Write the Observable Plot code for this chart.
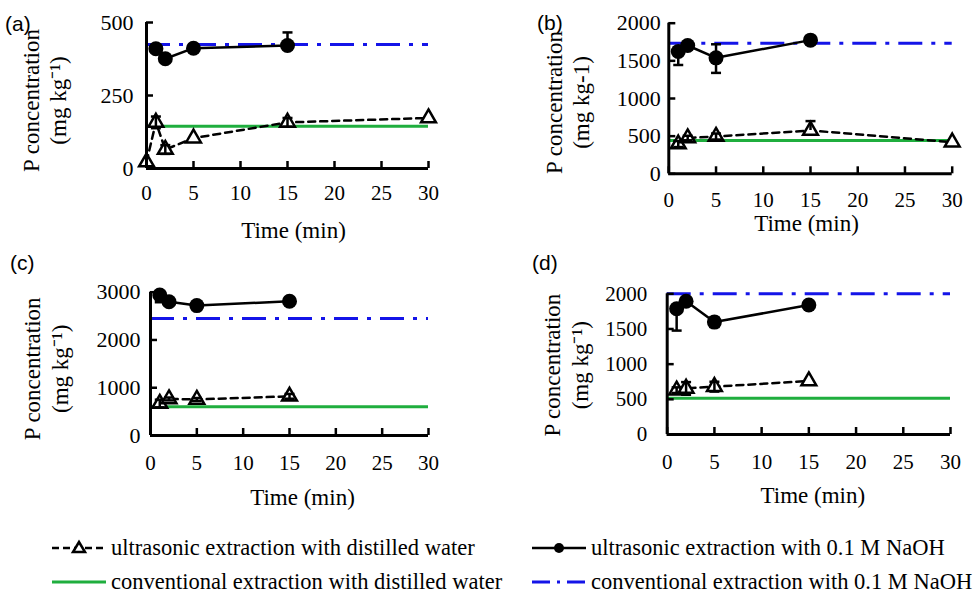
<!DOCTYPE html>
<html><head><meta charset="utf-8">
<script src="https://cdn.jsdelivr.net/npm/d3@7"></script>
<script src="https://cdn.jsdelivr.net/npm/@observablehq/plot@0.6"></script>
<style>
body{margin:0;background:#fff;}
#root{position:relative;width:980px;height:603px;overflow:hidden;background:#fff;font-family:"Liberation Serif","Times New Roman",serif;color:#000;}
#root svg text{font-family:"Liberation Serif","Times New Roman",serif !important;}
.tag{position:absolute;font-family:"Liberation Sans",Arial,sans-serif;font-size:21px;line-height:24px;}
.leg{position:absolute;height:26px;display:flex;align-items:center;font-size:22.5px;white-space:nowrap;}
.leg svg{margin-right:3px;}
</style></head><body><div id="root"></div>
<script>
// ---------- data ----------
const xTicks = [0, 5, 10, 15, 20, 25, 30];

// (a)
const waterTimesA  = [0, 1, 2, 5, 15, 30];
const waterA       = [22, 158, 65, 104, 158, 173];
const waterErrLoA  = [0, 20, 15, 0, 15, 0];
const waterErrHiA  = [0, 20, 15, 0, 15, 0];
const naohTimesA   = [1, 2, 5, 15];
const naohA        = [410, 376, 412, 421];
const naohErrLoA   = [0, 0, 0, 0];
const naohErrHiA   = [0, 0, 0, 45];
const convWaterA   = 145;
const convNaohA    = 425;
const yTicksA      = [0, 250, 500];

// (b)
const waterTimesB  = [1, 2, 5, 15, 30];
const waterB       = [395, 475, 495, 575, 420];
const waterErrLoB  = [40, 30, 40, 0, 0];
const waterErrHiB  = [40, 30, 40, 125, 0];
const naohTimesB   = [1, 2, 5, 15];
const naohB        = [1625, 1704, 1540, 1775];
const naohErrLoB   = [180, 0, 200, 0];
const naohErrHiB   = [0, 0, 180, 0];
const convWaterB   = 442;
const convNaohB    = 1734;
const yTicksB      = [0, 500, 1000, 1500, 2000];

// (c)
const waterTimesC  = [1, 2, 5, 15];
const waterC       = [670, 765, 755, 820];
const waterErrLoC  = [80, 30, 30, 50];
const waterErrHiC  = [80, 30, 30, 50];
const naohTimesC   = [1, 2, 5, 15];
const naohC        = [2940, 2800, 2720, 2810];
const naohErrLoC   = [150, 0, 0, 0];
const naohErrHiC   = [0, 0, 0, 0];
const convWaterC   = 600;
const convNaohC    = 2450;
const yTicksC      = [0, 1000, 2000, 3000];

// (d)
const waterTimesD  = [1, 2, 5, 15];
const waterD       = [630, 655, 680, 760];
const waterErrLoD  = [40, 90, 70, 0];
const waterErrHiD  = [40, 90, 70, 0];
const naohTimesD   = [1, 2, 5, 15];
const naohD        = [1787, 1895, 1598, 1840];
const naohErrLoD   = [310, 0, 70, 0];
const naohErrHiD   = [0, 0, 70, 0];
const convWaterD   = 515;
const convNaohD    = 2000;
const yTicksD      = [0, 500, 1000, 1500, 2000];

const legendLabels = [
  "ultrasonic extraction with distilled water",
  "ultrasonic extraction with 0.1 M NaOH",
  "conventional extraction with distilled water",
  "conventional extraction with 0.1 M NaOH"
];

// ---------- styles ----------
const SERIF = '"Liberation Serif","Times New Roman",serif';
const GREEN = "#1fae3e";
const BLUE = "#1414e8";
const hline = {draw(ctx, size) { const w = Math.sqrt(size / Math.PI); ctx.moveTo(-w, 0); ctx.lineTo(w, 0); }};

const zip = (xs, ys, lo, hi) => xs.map((x, i) => ({x, y: ys[i], lo: lo[i], hi: hi[i]}));

function panel(cfg) {
  const water = zip(cfg.wt, cfg.w, cfg.wlo, cfg.whi);
  const naoh = zip(cfg.nt, cfg.n, cfg.nlo, cfg.nhi);
  const errs = water.concat(naoh).filter(d => d.lo > 0 || d.hi > 0);
  const caps = errs.flatMap(d => [d.lo > 0 ? {x: d.x, y: d.y - d.lo} : null, d.hi > 0 ? {x: d.x, y: d.y + d.hi} : null].filter(Boolean));
  const svg = Plot.plot({
    width: cfg.width, height: cfg.height,
    marginLeft: cfg.mL, marginRight: cfg.mR, marginTop: cfg.mT, marginBottom: cfg.mB,
    x: {domain: [0, 30], axis: null},
    y: {domain: [0, cfg.yMax], axis: null},
    style: {fontFamily: SERIF, fontSize: "21px", color: "#000", background: "transparent", overflow: "visible"},
    marks: [
      Plot.ruleY([cfg.cw], {x1: 0, x2: 30, stroke: GREEN, strokeWidth: 3}),
      Plot.ruleY([cfg.cn], {x1: 0, x2: 30, stroke: BLUE, strokeWidth: 3, strokeDasharray: "24,9,4,9"}),
      Plot.line(water, {x: "x", y: "y", stroke: "#000", strokeWidth: 2.5, strokeDasharray: "7,5"}),
      Plot.line(naoh, {x: "x", y: "y", stroke: "#000", strokeWidth: 2.5}),
      Plot.dot(water, {x: "x", y: "y", symbol: "triangle", r: 5.5, fill: "#fff", stroke: "#000", strokeWidth: 2.5}),
      Plot.dot(naoh, {x: "x", y: "y", r: 7.5, fill: "#000", stroke: "none"}),
      Plot.ruleX(errs, {x: "x", y1: d => d.y - d.lo, y2: d => d.y + d.hi, stroke: "#000", strokeWidth: 2.5}),
      Plot.dot(caps, {x: "x", y: "y", symbol: hline, r: 5, stroke: "#000", strokeWidth: 2.5}),
      Plot.ruleX([0], {stroke: "#000", strokeWidth: 3}),
      Plot.ruleY([0], {stroke: "#000", strokeWidth: 3}),
      Plot.axisX(xTicks, {tickSize: -7, tickPadding: cfg.xPad, strokeWidth: 2.5, fontSize: 21, fontFamily: SERIF, tickFormat: d => String(d), label: null}),
      Plot.axisY(cfg.yTicks, {tickSize: -7, tickPadding: cfg.yPad, strokeWidth: 2.5, fontSize: cfg.yFont, fontFamily: SERIF, tickFormat: d => String(d), label: null}),
      Plot.text(["Time (min)"], {frameAnchor: "bottom", lineAnchor: "middle", dy: cfg.tDy, dx: cfg.tDx, fontSize: 23, fontFamily: SERIF}),
      Plot.text([cfg.yTitle], {frameAnchor: "left", textAnchor: "middle", lineAnchor: "middle", rotate: -90, lineHeight: 1.2, dx: cfg.yDx, dy: cfg.yDy, fontSize: 23, fontFamily: SERIF})
    ]
  });
  svg.style.position = "absolute";
  svg.style.left = cfg.left + "px";
  svg.style.top = cfg.top + "px";
  return svg;
}

const root = document.getElementById("root");
const sup = "P concentration\n(mg kg\u207B\u00B9)";

root.append(panel({left: 0, top: 0, width: 490, height: 250, mL: 146, mR: 62, mT: 22, mB: 82,
  yMax: 500, yTicks: yTicksA, wt: waterTimesA, w: waterA, wlo: waterErrLoA, whi: waterErrHiA,
  nt: naohTimesA, n: naohA, nlo: naohErrLoA, nhi: naohErrHiA,
  cw: convWaterA, cn: convNaohA, xPad: 24, yPad: 20, yFont: 22, tDy: 62, tDx: 6, yTitle: sup, yDx: -103, yDy: 5}));
root.append(panel({left: 490, top: 0, width: 490, height: 250, mL: 178.3, mR: 28.3, mT: 22.7, mB: 76.7,
  yMax: 2000, yTicks: yTicksB, wt: waterTimesB, w: waterB, wlo: waterErrLoB, whi: waterErrHiB,
  nt: naohTimesB, n: naohB, nlo: naohErrLoB, nhi: naohErrHiB,
  cw: convWaterB, cn: convNaohB, xPad: 25, yPad: 15, yFont: 22, tDy: 50, tDx: -4, yTitle: "P concentration\n(mg kg-1)", yDx: -102, yDy: 4}));
root.append(panel({left: 0, top: 250, width: 490, height: 270, mL: 150, mR: 62, mT: 41.7, mB: 85,
  yMax: 3000, yTicks: yTicksC, wt: waterTimesC, w: waterC, wlo: waterErrLoC, whi: waterErrHiC,
  nt: naohTimesC, n: naohC, nlo: naohErrLoC, nhi: naohErrHiC,
  cw: convWaterC, cn: convNaohC, xPad: 27, yPad: 17, yFont: 22, tDy: 62, tDx: 13, yTitle: sup, yDx: -105.5, yDy: 5}));
root.append(panel({left: 490, top: 250, width: 490, height: 270, mL: 176.7, mR: 30, mT: 43.3, mB: 86,
  yMax: 2000, yTicks: yTicksD, wt: waterTimesD, w: waterD, wlo: waterErrLoD, whi: waterErrHiD,
  nt: naohTimesD, n: naohD, nlo: naohErrLoD, nhi: naohErrHiD,
  cw: convWaterD, cn: convNaohD, xPad: 27, yPad: 27, yFont: 21, tDy: 61, tDx: 4, yTitle: sup, yDx: -102, yDy: 1}));

// panel tags
[["(a)", 5, 12], ["(b)", 537, 11], ["(c)", 10, 251], ["(d)", 532, 251]].forEach(([t, x, y]) => {
  const d = document.createElement("div");
  d.className = "tag"; d.textContent = t; d.style.left = x + "px"; d.style.top = y + "px";
  root.append(d);
});

// legend
const sym = [
  `<svg width="58" height="20"><line x1="2" y1="10" x2="56" y2="10" stroke="#000" stroke-width="2.5" stroke-dasharray="7,4"/><path d="M29,4 L35,14 L23,14 Z" fill="#fff" stroke="#000" stroke-width="2.5"/></svg>`,
  `<svg width="58" height="20"><line x1="2" y1="10" x2="56" y2="10" stroke="#000" stroke-width="2.5"/><circle cx="29" cy="10" r="5" fill="#000"/></svg>`,
  `<svg width="58" height="20"><line x1="2" y1="10" x2="56" y2="10" stroke="${GREEN}" stroke-width="3"/></svg>`,
  `<svg width="58" height="20"><line x1="2" y1="10" x2="58" y2="10" stroke="${BLUE}" stroke-width="3" stroke-dasharray="18,7,3,7"/></svg>`
];
const legPos = [[50, 535], [530, 535], [50, 569], [530, 569]];
legendLabels.forEach((lab, i) => {
  const d = document.createElement("div");
  d.className = "leg";
  d.style.left = legPos[i][0] + "px"; d.style.top = legPos[i][1] + "px";
  d.innerHTML = sym[i] + `<span>${lab}</span>`;
  root.append(d);
});
</script></body></html>
